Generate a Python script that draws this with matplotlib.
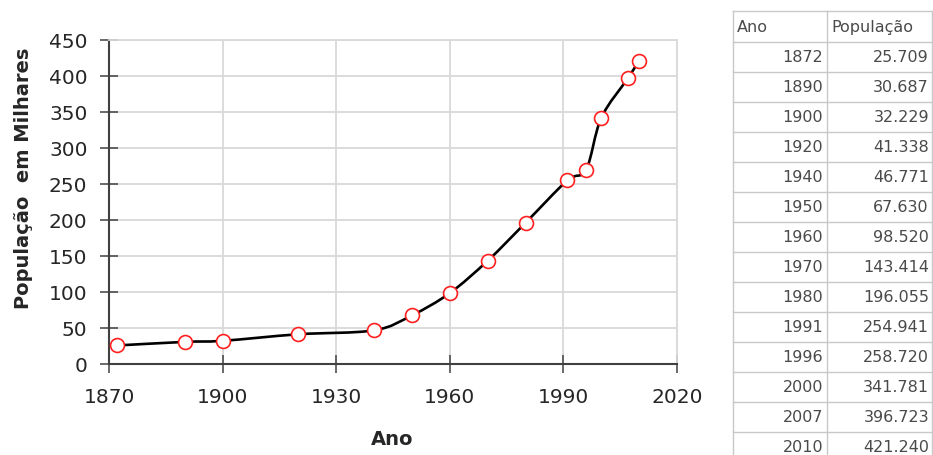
import matplotlib
matplotlib.use("Agg")
import matplotlib.pyplot as plt
from matplotlib.path import Path
from matplotlib.patches import PathPatch
import numpy as np

anos = [1872, 1890, 1900, 1920, 1940, 1950, 1960, 1970, 1980, 1991, 1996, 2000, 2007, 2010]
pop_grafico = [25.7, 30.7, 32.2, 41.3, 46.8, 67.6, 98.5, 143.4, 196.1, 254.9, 270.0, 341.8, 396.7, 421.2]
pop_tabela = ["25.709", "30.687", "32.229", "41.338", "46.771", "67.630", "98.520",
              "143.414", "196.055", "254.941", "258.720", "341.781", "396.723", "421.240"]
xticks = [1870, 1900, 1930, 1960, 1990, 2020]
yticks = [0, 50, 100, 150, 200, 250, 300, 350, 400, 450]

W, H = 933, 456
fig = plt.figure(figsize=(W / 100, H / 100), dpi=100)
fig.patch.set_facecolor("white")

# grafico
ax = fig.add_axes([109 / W, 1 - 365 / H, (677 - 109) / W, (365 - 41) / H])
ax.set_xlim(1870, 2020)
ax.set_ylim(0, 450)
ax.set_xticks(xticks)
ax.set_yticks(yticks)
ax.grid(True, color="#d9d9d9", linewidth=1.3)
ax.set_axisbelow(True)
for s in ["top", "right"]:
    ax.spines[s].set_color("#d9d9d9")
    ax.spines[s].set_linewidth(1.3)
for s in ["left", "bottom"]:
    ax.spines[s].set_color("#404040")
    ax.spines[s].set_linewidth(1.5)
ax.tick_params(direction="inout", length=13, width=1.1, color="#404040",
               labelsize=14.5, labelcolor="#262626")
ax.tick_params(axis="y", pad=9)
ax.tick_params(axis="x", pad=10)

# linha suavizada (bezier estilo Excel) entre os pontos
pts = np.column_stack([anos, pop_grafico])
n = len(pts)
verts = [pts[0]]
codes = [Path.MOVETO]
for i in range(n - 1):
    p0 = pts[i - 1] if i > 0 else pts[i]
    p3 = pts[i + 2] if i + 2 < n else pts[i + 1]
    c1 = pts[i] + (pts[i + 1] - p0) / 6
    c2 = pts[i + 1] - (p3 - pts[i]) / 6
    verts += [c1, c2, pts[i + 1]]
    codes += [Path.CURVE4] * 3
ax.add_patch(PathPatch(Path(verts, codes), facecolor="none", edgecolor="black",
                       linewidth=1.9, zorder=3))
ax.plot(anos, pop_grafico, linestyle="none", marker="o", markersize=10,
        markerfacecolor="white", markeredgecolor="#ff2020", markeredgewidth=1.2,
        zorder=4, clip_on=False)

fig.text(24 / W, 1 - 178 / H, "População  em Milhares", rotation=90, ha="center",
         va="center", fontsize=14, fontweight="bold", color="#262626")
fig.text(392 / W, 1 - 440 / H, "Ano", ha="center", va="center", fontsize=14,
         fontweight="bold", color="#262626")

# tabela
tx = fig.add_axes([0, 0, 1, 1])
tx.set_xlim(0, W)
tx.set_ylim(H, 0)
tx.axis("off")
left, mid, right = 733, 827, 932
top, head_h, row_h = 12, 31, 30
bcol = "#c8c8c8"
nrows = len(anos)
bottom = top + head_h + row_h * nrows
for x in [left, mid, right]:
    tx.plot([x, x], [top, bottom], color=bcol, linewidth=1)
ys = [top] + [top + head_h + row_h * k for k in range(nrows + 1)]
for y in ys:
    tx.plot([left, right], [y, y], color=bcol, linewidth=1)
tcol = "#4a4a4a"
tx.text(left + 4, top + head_h / 2, "Ano", ha="left", va="center", fontsize=11.5, color=tcol)
tx.text(mid + 4, top + head_h / 2, "População", ha="left", va="center", fontsize=11.5, color=tcol)
for k in range(nrows):
    yc = top + head_h + row_h * k + row_h / 2
    tx.text(mid - 4, yc, str(anos[k]), ha="right", va="center", fontsize=11.5, color=tcol)
    tx.text(right - 3, yc, pop_tabela[k], ha="right", va="center", fontsize=11.5, color=tcol)

fig.savefig("out.png", dpi=100)
